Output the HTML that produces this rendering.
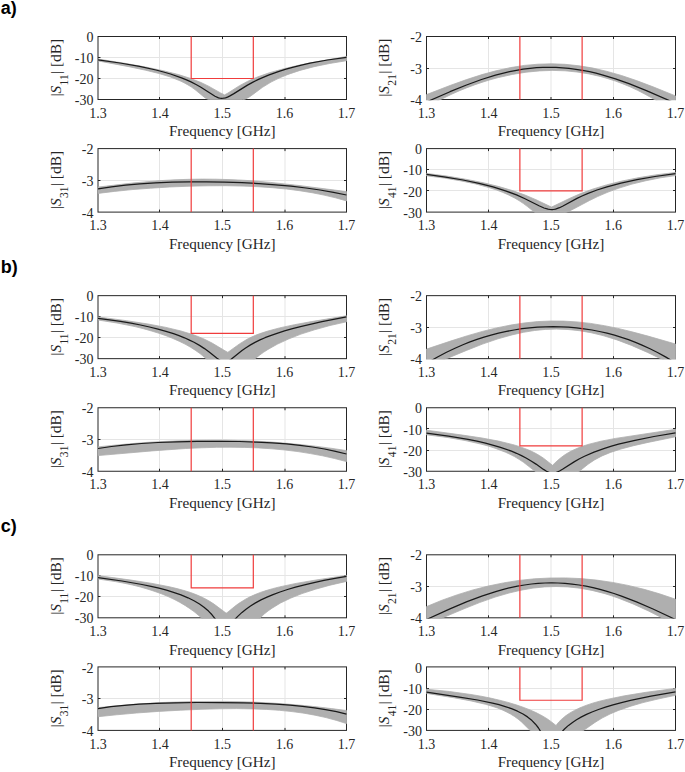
<!DOCTYPE html>
<html><head><meta charset="utf-8"><style>html,body{margin:0;padding:0;background:#fff;overflow:hidden}svg{display:block}</style></head><body>
<svg width="685" height="772" viewBox="0 0 685 772">
<rect width="100%" height="100%" fill="#fff"/>
<defs>
<clipPath id="c000"><rect x="97.3" y="35.8" width="249.9" height="64.4"/></clipPath>
<clipPath id="c001"><rect x="425.8" y="35.8" width="250.4" height="64.4"/></clipPath>
<clipPath id="c010"><rect x="97.3" y="147.9" width="249.9" height="64.9"/></clipPath>
<clipPath id="c011"><rect x="425.8" y="147.9" width="250.4" height="64.9"/></clipPath>
<clipPath id="c100"><rect x="97.3" y="294.95" width="249.9" height="64.4"/></clipPath>
<clipPath id="c101"><rect x="425.8" y="294.95" width="250.4" height="64.4"/></clipPath>
<clipPath id="c110"><rect x="97.3" y="407.05" width="249.9" height="64.9"/></clipPath>
<clipPath id="c111"><rect x="425.8" y="407.05" width="250.4" height="64.9"/></clipPath>
<clipPath id="c200"><rect x="97.3" y="554.0999999999999" width="249.9" height="64.4"/></clipPath>
<clipPath id="c201"><rect x="425.8" y="554.0999999999999" width="250.4" height="64.4"/></clipPath>
<clipPath id="c210"><rect x="97.3" y="666.1999999999999" width="249.9" height="64.9"/></clipPath>
<clipPath id="c211"><rect x="425.8" y="666.1999999999999" width="250.4" height="64.9"/></clipPath>
</defs>
<style>.t{font-family:"Liberation Serif",serif;font-size:14px;fill:#262626}.l{font-family:"Liberation Serif",serif;font-size:15.2px;fill:#262626}</style>
<text x="0.8" y="13.90" font-family="Liberation Sans" font-weight="bold" font-size="18">a)</text>
<path d="M159.5,36.5V99.5M222.5,36.5V99.5M285.0,36.5V99.5M98.0,57.50H346.5M98.0,78.50H346.5" stroke="#e5e5e5" stroke-width="1" fill="none"/>
<rect x="98.0" y="36.5" width="248.5" height="63.0" fill="none" stroke="#262626" stroke-width="1"/>
<path d="M159.5,99.5v-2.5M159.5,36.5v2.5M222.5,99.5v-2.5M222.5,36.5v2.5M285.0,99.5v-2.5M285.0,36.5v2.5M98.0,57.50h2.5M346.5,57.50h-2.5M98.0,78.50h2.5M346.5,78.50h-2.5" stroke="#262626" stroke-width="1" fill="none"/>
<g clip-path="url(#c000)">
<path d="M98.0,59.0 126.0,63.5 147.0,67.3 164.0,70.9 178.5,74.6 190.5,78.4 201.0,82.5 209.0,86.4 220.5,92.9 224.5,94.9 228.0,93.0 239.5,85.7 247.5,81.4 252.5,79.0 258.0,76.8 269.5,72.7 284.0,68.7 301.0,64.7 321.5,60.8 346.5,56.5 L346.5,60.7 329.5,63.5 314.0,66.7 300.0,70.4 288.0,74.4 279.0,78.1 271.0,82.1 262.5,87.3 251.5,95.5 248.5,97.5 245.5,99.0 244.0,99.4 242.5,99.5 209.5,99.5 208.0,99.3 206.5,98.7 204.5,97.4 195.0,89.6 191.5,87.1 188.0,84.9 184.0,82.7 180.0,80.8 170.5,77.0 159.0,73.5 145.5,70.2 129.0,66.7 98.0,60.9Z" fill="#afafaf" stroke="#afafaf" stroke-width="0.8"/>
<path d="M98.0,59.8 120.0,63.0 139.5,66.4 156.0,70.0 163.5,72.0 170.5,74.0 181.5,77.9 186.5,79.9 191.0,81.9 196.0,84.5 200.5,87.0 215.0,96.3 218.5,97.9 220.0,98.2 221.5,98.3 223.5,98.2 225.5,97.8 227.5,97.1 229.5,96.1 233.5,93.9 247.5,85.1 253.0,82.1 258.5,79.4 268.5,75.1 279.0,71.3 286.0,69.1 293.5,67.1 301.5,65.1 310.0,63.2 327.5,60.0 346.5,57.3" fill="none" stroke="#1a1a1a" stroke-width="1.25" stroke-linejoin="round"/>
</g>
<path d="M191.19,36.5V78.50H253.31V36.5" fill="none" stroke="#f03c3c" stroke-width="1.2"/>
<text x="98.00" y="117.70" text-anchor="middle" class="t">1.3</text>
<text x="160.12" y="117.70" text-anchor="middle" class="t">1.4</text>
<text x="222.25" y="117.70" text-anchor="middle" class="t">1.5</text>
<text x="284.38" y="117.70" text-anchor="middle" class="t">1.6</text>
<text x="346.50" y="117.70" text-anchor="middle" class="t">1.7</text>
<text x="93.50" y="42.10" text-anchor="end" class="t">0</text>
<text x="93.50" y="63.10" text-anchor="end" class="t">-10</text>
<text x="93.50" y="84.10" text-anchor="end" class="t">-20</text>
<text x="93.50" y="105.10" text-anchor="end" class="t">-30</text>
<text x="222.25" y="136.30" text-anchor="middle" class="l">Frequency [GHz]</text>
<text transform="translate(60.70,67.70) rotate(-90)" text-anchor="middle" class="l" style="font-size:15.4px">|<tspan font-style="italic">S</tspan><tspan font-size="11.6" dy="7" dx="0.3">11</tspan><tspan dy="-7" dx="0.3">| [dB]</tspan></text>
<path d="M488.5,36.5V99.5M551.0,36.5V99.5M613.5,36.5V99.5M426.5,68.50H675.5" stroke="#e5e5e5" stroke-width="1" fill="none"/>
<rect x="426.5" y="36.5" width="249.0" height="63.0" fill="none" stroke="#262626" stroke-width="1"/>
<path d="M488.5,99.5v-2.5M488.5,36.5v2.5M551.0,99.5v-2.5M551.0,36.5v2.5M613.5,99.5v-2.5M613.5,36.5v2.5M426.5,68.50h2.5M675.5,68.50h-2.5" stroke="#262626" stroke-width="1" fill="none"/>
<g clip-path="url(#c001)">
<path d="M426.5,94.6 450.0,85.5 466.5,79.6 482.0,74.6 496.0,70.8 510.5,67.6 524.5,65.4 538.0,64.2 551.5,63.8 565.0,64.3 579.0,65.8 593.0,68.1 607.0,71.4 621.5,75.5 636.5,80.6 653.0,86.8 675.5,95.9 L675.5,102.5 659.5,102.5 659.0,102.3 652.0,98.1 644.5,93.9 637.5,90.3 630.0,86.8 623.0,83.9 615.5,81.1 608.0,78.7 600.5,76.5 589.0,73.9 577.0,72.0 565.0,70.8 552.5,70.4 539.5,70.9 526.0,72.2 512.5,74.4 498.5,77.5 491.0,79.5 483.0,82.0 475.0,84.7 467.0,87.7 459.0,90.9 451.0,94.5 434.5,102.5 426.5,102.5Z" fill="#afafaf" stroke="#afafaf" stroke-width="0.8"/>
<path d="M426.5,102.0 450.0,91.7 466.5,85.0 481.5,79.5 495.5,75.1 502.5,73.3 509.5,71.7 516.5,70.3 523.0,69.2 530.0,68.3 536.5,67.7 543.0,67.4 549.5,67.3 556.0,67.4 562.5,67.8 569.0,68.4 576.0,69.3 582.5,70.3 589.5,71.7 596.0,73.2 603.0,75.1 615.5,78.9 629.0,83.7 647.0,90.9 673.5,102.4 675.5,102.5" fill="none" stroke="#1a1a1a" stroke-width="1.25" stroke-linejoin="round"/>
</g>
<path d="M519.88,36.5V99.5M582.12,36.5V99.5" fill="none" stroke="#f03c3c" stroke-width="1.2"/>
<text x="426.50" y="117.70" text-anchor="middle" class="t">1.3</text>
<text x="488.75" y="117.70" text-anchor="middle" class="t">1.4</text>
<text x="551.00" y="117.70" text-anchor="middle" class="t">1.5</text>
<text x="613.25" y="117.70" text-anchor="middle" class="t">1.6</text>
<text x="675.50" y="117.70" text-anchor="middle" class="t">1.7</text>
<text x="422.00" y="42.10" text-anchor="end" class="t">-2</text>
<text x="422.00" y="73.60" text-anchor="end" class="t">-3</text>
<text x="422.00" y="105.10" text-anchor="end" class="t">-4</text>
<text x="551.00" y="136.30" text-anchor="middle" class="l">Frequency [GHz]</text>
<text transform="translate(389.20,67.70) rotate(-90)" text-anchor="middle" class="l" style="font-size:15.4px">|<tspan font-style="italic">S</tspan><tspan font-size="11.6" dy="7" dx="0.3">21</tspan><tspan dy="-7" dx="0.3">| [dB]</tspan></text>
<path d="M159.5,148.6V212.1M222.5,148.6V212.1M285.0,148.6V212.1M98.0,180.50H346.5" stroke="#e5e5e5" stroke-width="1" fill="none"/>
<rect x="98.0" y="148.6" width="248.5" height="63.5" fill="none" stroke="#262626" stroke-width="1"/>
<path d="M159.5,212.1v-2.5M159.5,148.6v2.5M222.5,212.1v-2.5M222.5,148.6v2.5M285.0,212.1v-2.5M285.0,148.6v2.5M98.0,180.50h2.5M346.5,180.50h-2.5" stroke="#262626" stroke-width="1" fill="none"/>
<g clip-path="url(#c010)">
<path d="M98.0,187.1 132.0,183.1 147.0,181.7 161.0,180.6 175.0,179.8 189.0,179.3 202.5,179.1 216.0,179.2 229.0,179.6 242.5,180.2 256.0,181.1 270.5,182.4 299.0,185.5 346.5,191.6 L346.5,200.9 335.5,197.8 324.0,195.1 312.0,192.7 299.5,190.7 286.5,189.0 272.5,187.7 258.0,186.7 243.0,186.1 226.0,185.7 208.0,185.8 189.0,186.2 169.5,187.0 150.5,188.2 132.0,189.6 114.5,191.4 98.0,193.4Z" fill="#afafaf" stroke="#afafaf" stroke-width="0.8"/>
<path d="M98.0,188.8 111.5,186.8 125.5,185.2 140.0,183.9 155.5,182.9 172.0,182.2 189.0,181.9 206.5,181.8 224.5,182.1 242.0,182.7 259.0,183.6 275.5,184.8 291.0,186.2 306.0,188.0 320.0,190.0 333.5,192.3 346.5,195.0" fill="none" stroke="#1a1a1a" stroke-width="1.25" stroke-linejoin="round"/>
</g>
<path d="M191.19,148.6V212.1M253.31,148.6V212.1" fill="none" stroke="#f03c3c" stroke-width="1.2"/>
<text x="98.00" y="230.30" text-anchor="middle" class="t">1.3</text>
<text x="160.12" y="230.30" text-anchor="middle" class="t">1.4</text>
<text x="222.25" y="230.30" text-anchor="middle" class="t">1.5</text>
<text x="284.38" y="230.30" text-anchor="middle" class="t">1.6</text>
<text x="346.50" y="230.30" text-anchor="middle" class="t">1.7</text>
<text x="93.50" y="154.20" text-anchor="end" class="t">-2</text>
<text x="93.50" y="185.95" text-anchor="end" class="t">-3</text>
<text x="93.50" y="217.70" text-anchor="end" class="t">-4</text>
<text x="222.25" y="248.90" text-anchor="middle" class="l">Frequency [GHz]</text>
<text transform="translate(60.70,180.05) rotate(-90)" text-anchor="middle" class="l" style="font-size:15.4px">|<tspan font-style="italic">S</tspan><tspan font-size="11.6" dy="7" dx="0.3">31</tspan><tspan dy="-7" dx="0.3">| [dB]</tspan></text>
<path d="M488.5,148.6V212.1M551.0,148.6V212.1M613.5,148.6V212.1M426.5,169.50H675.5M426.5,190.50H675.5" stroke="#e5e5e5" stroke-width="1" fill="none"/>
<rect x="426.5" y="148.6" width="249.0" height="63.5" fill="none" stroke="#262626" stroke-width="1"/>
<path d="M488.5,212.1v-2.5M488.5,148.6v2.5M551.0,212.1v-2.5M551.0,148.6v2.5M613.5,212.1v-2.5M613.5,148.6v2.5M426.5,169.50h2.5M675.5,169.50h-2.5M426.5,190.50h2.5M675.5,190.50h-2.5" stroke="#262626" stroke-width="1" fill="none"/>
<g clip-path="url(#c011)">
<path d="M426.5,173.4 447.0,176.1 466.0,179.3 483.5,182.8 499.0,186.6 512.5,190.6 525.0,195.0 536.0,199.7 551.5,207.1 570.0,198.2 580.5,193.6 593.0,189.0 606.5,184.9 622.0,181.0 639.0,177.6 657.0,174.7 675.5,172.5 L675.5,175.6 660.5,177.8 646.0,180.7 632.0,184.1 619.0,188.1 608.0,192.1 597.5,196.6 589.5,200.5 573.5,209.0 567.5,211.9 562.0,214.0 557.5,215.1 538.5,215.0 535.0,212.6 527.5,206.6 523.5,203.6 519.0,200.6 514.5,197.9 508.5,194.9 502.5,192.3 496.0,189.8 488.5,187.4 475.5,183.9 461.0,180.9 444.5,178.1 426.5,175.8Z" fill="#afafaf" stroke="#afafaf" stroke-width="0.8"/>
<path d="M426.5,174.4 445.5,177.1 463.0,180.0 479.0,183.3 493.0,186.9 505.5,190.8 516.5,194.9 525.0,198.7 539.0,205.8 544.0,208.0 548.0,209.2 550.0,209.5 552.0,209.6 553.5,209.5 555.5,209.1 559.5,207.7 563.0,206.0 577.0,198.4 582.0,196.0 587.5,193.6 597.0,190.0 607.0,186.8 621.0,183.1 637.0,179.7 655.0,176.5 675.5,173.6" fill="none" stroke="#1a1a1a" stroke-width="1.25" stroke-linejoin="round"/>
</g>
<path d="M519.88,148.6V190.93H582.12V148.6" fill="none" stroke="#f03c3c" stroke-width="1.2"/>
<text x="426.50" y="230.30" text-anchor="middle" class="t">1.3</text>
<text x="488.75" y="230.30" text-anchor="middle" class="t">1.4</text>
<text x="551.00" y="230.30" text-anchor="middle" class="t">1.5</text>
<text x="613.25" y="230.30" text-anchor="middle" class="t">1.6</text>
<text x="675.50" y="230.30" text-anchor="middle" class="t">1.7</text>
<text x="422.00" y="154.20" text-anchor="end" class="t">0</text>
<text x="422.00" y="175.37" text-anchor="end" class="t">-10</text>
<text x="422.00" y="196.53" text-anchor="end" class="t">-20</text>
<text x="422.00" y="217.70" text-anchor="end" class="t">-30</text>
<text x="551.00" y="248.90" text-anchor="middle" class="l">Frequency [GHz]</text>
<text transform="translate(389.20,180.05) rotate(-90)" text-anchor="middle" class="l" style="font-size:15.4px">|<tspan font-style="italic">S</tspan><tspan font-size="11.6" dy="7" dx="0.3">41</tspan><tspan dy="-7" dx="0.3">| [dB]</tspan></text>
<text x="0.8" y="273.05" font-family="Liberation Sans" font-weight="bold" font-size="18">b)</text>
<path d="M159.5,295.65V358.65M222.5,295.65V358.65M285.0,295.65V358.65M98.0,316.50H346.5M98.0,337.50H346.5" stroke="#e5e5e5" stroke-width="1" fill="none"/>
<rect x="98.0" y="295.65" width="248.5" height="63.0" fill="none" stroke="#262626" stroke-width="1"/>
<path d="M159.5,358.65v-2.5M159.5,295.65v2.5M222.5,358.65v-2.5M222.5,295.65v2.5M285.0,358.65v-2.5M285.0,295.65v2.5M98.0,316.50h2.5M346.5,316.50h-2.5M98.0,337.50h2.5M346.5,337.50h-2.5" stroke="#262626" stroke-width="1" fill="none"/>
<g clip-path="url(#c100)">
<path d="M98.0,316.9 126.5,320.7 148.0,324.0 166.0,327.4 181.0,331.0 193.5,334.8 199.0,336.9 204.0,339.0 212.0,343.0 225.0,350.8 227.5,352.2 228.0,352.2 239.5,343.9 247.0,339.3 251.5,337.1 256.0,335.1 261.5,333.1 267.0,331.3 279.5,327.9 294.5,324.7 311.5,321.6 346.5,315.8 L346.5,321.8 330.0,325.5 314.5,329.8 301.0,334.1 288.5,339.0 277.5,344.1 268.0,349.4 263.5,352.3 259.5,355.2 255.5,358.4 252.0,361.6 209.5,361.6 209.0,361.6 204.5,357.3 200.0,353.6 195.5,350.4 190.5,347.2 185.0,344.1 179.5,341.4 173.0,338.5 166.5,335.9 159.0,333.3 151.5,331.0 143.5,328.7 135.0,326.6 117.0,323.0 98.0,320.0Z" fill="#afafaf" stroke="#afafaf" stroke-width="0.8"/>
<path d="M98.0,318.3 109.5,319.8 120.5,321.4 131.0,323.2 140.5,325.0 149.5,327.0 158.0,329.1 166.0,331.3 173.5,333.7 179.0,335.6 184.5,337.8 189.5,340.1 194.0,342.3 199.5,345.4 204.5,348.6 209.5,352.3 217.0,358.2 220.0,360.3 221.5,361.1 223.0,361.6 226.5,361.6 227.0,361.6 228.0,361.2 230.5,359.8 242.0,350.5 246.0,347.7 250.5,344.9 255.0,342.4 260.0,339.9 265.0,337.7 270.5,335.6 277.0,333.3 284.5,330.9 292.5,328.6 301.5,326.3 322.0,321.6 346.5,316.8" fill="none" stroke="#1a1a1a" stroke-width="1.25" stroke-linejoin="round"/>
</g>
<path d="M191.19,295.65V333.45H253.31V295.65" fill="none" stroke="#f03c3c" stroke-width="1.2"/>
<text x="98.00" y="376.85" text-anchor="middle" class="t">1.3</text>
<text x="160.12" y="376.85" text-anchor="middle" class="t">1.4</text>
<text x="222.25" y="376.85" text-anchor="middle" class="t">1.5</text>
<text x="284.38" y="376.85" text-anchor="middle" class="t">1.6</text>
<text x="346.50" y="376.85" text-anchor="middle" class="t">1.7</text>
<text x="93.50" y="301.25" text-anchor="end" class="t">0</text>
<text x="93.50" y="322.25" text-anchor="end" class="t">-10</text>
<text x="93.50" y="343.25" text-anchor="end" class="t">-20</text>
<text x="93.50" y="364.25" text-anchor="end" class="t">-30</text>
<text x="222.25" y="395.45" text-anchor="middle" class="l">Frequency [GHz]</text>
<text transform="translate(60.70,326.85) rotate(-90)" text-anchor="middle" class="l" style="font-size:15.4px">|<tspan font-style="italic">S</tspan><tspan font-size="11.6" dy="7" dx="0.3">11</tspan><tspan dy="-7" dx="0.3">| [dB]</tspan></text>
<path d="M488.5,295.65V358.65M551.0,295.65V358.65M613.5,295.65V358.65M426.5,327.50H675.5" stroke="#e5e5e5" stroke-width="1" fill="none"/>
<rect x="426.5" y="295.65" width="249.0" height="63.0" fill="none" stroke="#262626" stroke-width="1"/>
<path d="M488.5,358.65v-2.5M488.5,295.65v2.5M551.0,358.65v-2.5M551.0,295.65v2.5M613.5,358.65v-2.5M613.5,295.65v2.5M426.5,327.50h2.5M675.5,327.50h-2.5" stroke="#262626" stroke-width="1" fill="none"/>
<g clip-path="url(#c101)">
<path d="M426.5,349.1 452.0,340.6 467.5,335.7 482.5,331.4 496.5,327.9 510.5,325.1 524.0,323.0 537.5,321.6 550.5,321.0 563.5,321.1 577.0,321.9 590.5,323.4 604.5,325.7 618.0,328.4 633.0,332.1 648.0,336.1 675.5,344.0 L675.5,361.6 667.0,361.6 666.5,361.5 647.5,352.4 631.5,345.4 617.0,339.9 603.0,335.6 591.0,332.7 579.5,330.7 568.0,329.5 556.5,329.1 545.5,329.4 534.5,330.5 523.5,332.3 512.0,334.9 498.0,338.8 482.5,344.1 466.5,350.4 439.5,361.6 426.5,361.6Z" fill="#afafaf" stroke="#afafaf" stroke-width="0.8"/>
<path d="M426.5,361.6 429.5,361.6 438.0,356.7 446.5,352.2 455.0,348.2 463.5,344.5 470.0,341.9 477.0,339.4 484.0,337.1 491.0,335.1 498.5,333.1 506.5,331.4 514.0,330.0 522.0,328.7 529.5,327.8 537.5,327.2 545.5,326.8 553.0,326.6 561.0,326.8 568.5,327.2 576.5,327.9 584.0,328.8 592.0,330.0 599.5,331.5 607.0,333.2 614.5,335.2 621.5,337.4 628.5,339.7 635.5,342.4 642.0,345.1 650.0,348.8 657.5,352.5 665.5,356.9 673.0,361.4 673.5,361.6 675.5,361.6" fill="none" stroke="#1a1a1a" stroke-width="1.25" stroke-linejoin="round"/>
</g>
<path d="M519.88,295.65V358.65M582.12,295.65V358.65" fill="none" stroke="#f03c3c" stroke-width="1.2"/>
<text x="426.50" y="376.85" text-anchor="middle" class="t">1.3</text>
<text x="488.75" y="376.85" text-anchor="middle" class="t">1.4</text>
<text x="551.00" y="376.85" text-anchor="middle" class="t">1.5</text>
<text x="613.25" y="376.85" text-anchor="middle" class="t">1.6</text>
<text x="675.50" y="376.85" text-anchor="middle" class="t">1.7</text>
<text x="422.00" y="301.25" text-anchor="end" class="t">-2</text>
<text x="422.00" y="332.75" text-anchor="end" class="t">-3</text>
<text x="422.00" y="364.25" text-anchor="end" class="t">-4</text>
<text x="551.00" y="395.45" text-anchor="middle" class="l">Frequency [GHz]</text>
<text transform="translate(389.20,326.85) rotate(-90)" text-anchor="middle" class="l" style="font-size:15.4px">|<tspan font-style="italic">S</tspan><tspan font-size="11.6" dy="7" dx="0.3">21</tspan><tspan dy="-7" dx="0.3">| [dB]</tspan></text>
<path d="M159.5,407.75V471.25M222.5,407.75V471.25M285.0,407.75V471.25M98.0,439.50H346.5" stroke="#e5e5e5" stroke-width="1" fill="none"/>
<rect x="98.0" y="407.75" width="248.5" height="63.5" fill="none" stroke="#262626" stroke-width="1"/>
<path d="M159.5,471.25v-2.5M159.5,407.75v2.5M222.5,471.25v-2.5M222.5,407.75v2.5M285.0,471.25v-2.5M285.0,407.75v2.5M98.0,439.50h2.5M346.5,439.50h-2.5" stroke="#262626" stroke-width="1" fill="none"/>
<g clip-path="url(#c110)">
<path d="M98.0,446.9 114.5,445.2 131.0,443.7 147.0,442.4 163.0,441.5 179.0,440.8 195.0,440.3 210.5,440.2 226.0,440.2 241.5,440.6 256.5,441.2 272.0,442.1 287.0,443.3 302.0,444.7 317.0,446.4 332.0,448.4 346.5,450.6 L346.5,461.6 334.5,458.5 322.5,455.8 310.5,453.6 298.0,451.6 285.0,450.0 272.0,448.8 258.5,447.9 244.5,447.4 231.0,447.2 216.5,447.3 201.5,447.8 185.5,448.5 152.0,450.9 98.0,455.6Z" fill="#afafaf" stroke="#afafaf" stroke-width="0.8"/>
<path d="M98.0,448.5 111.5,446.5 126.0,444.9 141.5,443.5 158.0,442.5 177.0,441.8 197.5,441.4 219.0,441.3 239.5,441.5 256.5,442.1 272.0,442.9 286.5,443.9 300.0,445.3 312.5,447.0 324.5,449.0 335.5,451.3 346.5,454.0" fill="none" stroke="#1a1a1a" stroke-width="1.25" stroke-linejoin="round"/>
</g>
<path d="M191.19,407.75V471.25M253.31,407.75V471.25" fill="none" stroke="#f03c3c" stroke-width="1.2"/>
<text x="98.00" y="489.45" text-anchor="middle" class="t">1.3</text>
<text x="160.12" y="489.45" text-anchor="middle" class="t">1.4</text>
<text x="222.25" y="489.45" text-anchor="middle" class="t">1.5</text>
<text x="284.38" y="489.45" text-anchor="middle" class="t">1.6</text>
<text x="346.50" y="489.45" text-anchor="middle" class="t">1.7</text>
<text x="93.50" y="413.35" text-anchor="end" class="t">-2</text>
<text x="93.50" y="445.10" text-anchor="end" class="t">-3</text>
<text x="93.50" y="476.85" text-anchor="end" class="t">-4</text>
<text x="222.25" y="508.05" text-anchor="middle" class="l">Frequency [GHz]</text>
<text transform="translate(60.70,439.20) rotate(-90)" text-anchor="middle" class="l" style="font-size:15.4px">|<tspan font-style="italic">S</tspan><tspan font-size="11.6" dy="7" dx="0.3">31</tspan><tspan dy="-7" dx="0.3">| [dB]</tspan></text>
<path d="M488.5,407.75V471.25M551.0,407.75V471.25M613.5,407.75V471.25M426.5,428.50H675.5M426.5,450.50H675.5" stroke="#e5e5e5" stroke-width="1" fill="none"/>
<rect x="426.5" y="407.75" width="249.0" height="63.5" fill="none" stroke="#262626" stroke-width="1"/>
<path d="M488.5,471.25v-2.5M488.5,407.75v2.5M551.0,471.25v-2.5M551.0,407.75v2.5M613.5,471.25v-2.5M613.5,407.75v2.5M426.5,428.50h2.5M675.5,428.50h-2.5M426.5,450.50h2.5M675.5,450.50h-2.5" stroke="#262626" stroke-width="1" fill="none"/>
<g clip-path="url(#c111)">
<path d="M426.5,430.2 462.5,435.1 482.0,438.0 498.5,441.1 512.5,444.5 519.0,446.4 524.5,448.4 530.0,450.6 535.0,453.0 539.5,455.6 543.5,458.2 552.5,465.3 557.0,461.0 560.5,458.0 564.5,455.0 568.5,452.5 573.0,450.2 578.0,448.0 583.0,446.1 589.0,444.2 601.0,441.2 615.5,438.4 675.5,429.3 L675.5,436.8 648.0,442.4 633.5,445.7 621.0,449.0 610.5,452.4 602.0,455.9 594.5,459.9 588.0,464.3 578.5,471.9 576.5,473.2 575.0,473.7 573.5,473.9 541.5,473.9 539.0,473.5 536.0,472.0 523.5,462.3 519.0,459.3 514.5,456.6 510.0,454.3 505.5,452.2 495.0,448.2 488.5,446.1 481.0,444.1 465.0,440.5 447.0,437.4 426.5,434.8Z" fill="#afafaf" stroke="#afafaf" stroke-width="0.8"/>
<path d="M426.5,433.2 448.5,436.1 468.0,439.4 477.0,441.2 485.5,443.2 493.5,445.3 500.5,447.4 511.5,451.2 516.5,453.3 521.5,455.6 526.5,458.2 531.5,461.2 536.0,464.1 543.5,469.4 546.5,471.3 549.5,472.6 551.0,473.0 552.5,473.1 554.0,473.0 556.0,472.5 559.5,471.0 562.5,469.2 574.5,461.6 579.5,458.7 584.5,456.2 594.0,452.1 604.5,448.3 611.5,446.2 618.5,444.2 635.0,440.3 654.0,436.5 675.5,432.9" fill="none" stroke="#1a1a1a" stroke-width="1.25" stroke-linejoin="round"/>
</g>
<path d="M519.88,407.75V445.85H582.12V407.75" fill="none" stroke="#f03c3c" stroke-width="1.2"/>
<text x="426.50" y="489.45" text-anchor="middle" class="t">1.3</text>
<text x="488.75" y="489.45" text-anchor="middle" class="t">1.4</text>
<text x="551.00" y="489.45" text-anchor="middle" class="t">1.5</text>
<text x="613.25" y="489.45" text-anchor="middle" class="t">1.6</text>
<text x="675.50" y="489.45" text-anchor="middle" class="t">1.7</text>
<text x="422.00" y="413.35" text-anchor="end" class="t">0</text>
<text x="422.00" y="434.52" text-anchor="end" class="t">-10</text>
<text x="422.00" y="455.68" text-anchor="end" class="t">-20</text>
<text x="422.00" y="476.85" text-anchor="end" class="t">-30</text>
<text x="551.00" y="508.05" text-anchor="middle" class="l">Frequency [GHz]</text>
<text transform="translate(389.20,439.20) rotate(-90)" text-anchor="middle" class="l" style="font-size:15.4px">|<tspan font-style="italic">S</tspan><tspan font-size="11.6" dy="7" dx="0.3">41</tspan><tspan dy="-7" dx="0.3">| [dB]</tspan></text>
<text x="0.8" y="532.20" font-family="Liberation Sans" font-weight="bold" font-size="18">c)</text>
<path d="M159.5,554.8V617.8M222.5,554.8V617.8M285.0,554.8V617.8M98.0,575.50H346.5M98.0,596.50H346.5" stroke="#e5e5e5" stroke-width="1" fill="none"/>
<rect x="98.0" y="554.8" width="248.5" height="63.0" fill="none" stroke="#262626" stroke-width="1"/>
<path d="M159.5,617.8v-2.5M159.5,554.8v2.5M222.5,617.8v-2.5M222.5,554.8v2.5M285.0,617.8v-2.5M285.0,554.8v2.5M98.0,575.50h2.5M346.5,575.50h-2.5M98.0,596.50h2.5M346.5,596.50h-2.5" stroke="#262626" stroke-width="1" fill="none"/>
<g clip-path="url(#c200)">
<path d="M98.0,575.6 131.0,580.1 152.0,583.4 169.5,586.8 177.0,588.6 184.0,590.5 190.5,592.5 196.0,594.6 201.0,596.7 206.0,599.2 210.0,601.5 214.0,604.1 226.0,613.1 226.5,613.0 228.0,612.0 234.5,606.6 238.5,603.6 245.5,599.2 250.0,596.8 255.0,594.6 260.5,592.4 266.0,590.6 272.5,588.7 279.5,586.9 296.0,583.4 316.0,580.0 346.5,575.4 L346.5,581.4 330.0,585.2 315.5,589.2 302.0,593.6 290.5,598.2 280.5,603.0 272.0,608.2 268.0,611.0 264.5,613.8 257.0,620.8 205.0,620.8 204.5,620.8 199.0,615.7 194.0,611.6 189.5,608.4 185.0,605.4 179.5,602.2 174.0,599.3 168.0,596.5 162.0,594.0 155.0,591.5 148.0,589.2 140.5,587.0 132.5,585.0 124.0,583.2 115.5,581.6 98.0,579.0Z" fill="#afafaf" stroke="#afafaf" stroke-width="0.8"/>
<path d="M98.0,577.6 122.0,581.0 142.0,584.5 151.0,586.4 159.0,588.2 166.5,590.2 173.5,592.3 181.0,594.9 188.0,597.8 194.0,600.8 199.5,604.0 204.0,607.3 208.5,611.1 212.0,614.8 216.5,620.5 217.0,620.8 233.5,620.8 238.0,616.1 242.0,612.4 246.0,609.2 250.5,606.0 255.5,602.9 261.0,599.9 267.0,597.1 273.0,594.6 280.0,592.0 287.5,589.5 295.5,587.2 304.5,584.8 314.0,582.6 324.0,580.4 335.0,578.3 346.5,576.3" fill="none" stroke="#1a1a1a" stroke-width="1.25" stroke-linejoin="round"/>
</g>
<path d="M191.19,554.8V587.88H253.31V554.8" fill="none" stroke="#f03c3c" stroke-width="1.2"/>
<text x="98.00" y="636.00" text-anchor="middle" class="t">1.3</text>
<text x="160.12" y="636.00" text-anchor="middle" class="t">1.4</text>
<text x="222.25" y="636.00" text-anchor="middle" class="t">1.5</text>
<text x="284.38" y="636.00" text-anchor="middle" class="t">1.6</text>
<text x="346.50" y="636.00" text-anchor="middle" class="t">1.7</text>
<text x="93.50" y="560.40" text-anchor="end" class="t">0</text>
<text x="93.50" y="581.40" text-anchor="end" class="t">-10</text>
<text x="93.50" y="602.40" text-anchor="end" class="t">-20</text>
<text x="93.50" y="623.40" text-anchor="end" class="t">-30</text>
<text x="222.25" y="654.60" text-anchor="middle" class="l">Frequency [GHz]</text>
<text transform="translate(60.70,586.00) rotate(-90)" text-anchor="middle" class="l" style="font-size:15.4px">|<tspan font-style="italic">S</tspan><tspan font-size="11.6" dy="7" dx="0.3">11</tspan><tspan dy="-7" dx="0.3">| [dB]</tspan></text>
<path d="M488.5,554.8V617.8M551.0,554.8V617.8M613.5,554.8V617.8M426.5,586.50H675.5" stroke="#e5e5e5" stroke-width="1" fill="none"/>
<rect x="426.5" y="554.8" width="249.0" height="63.0" fill="none" stroke="#262626" stroke-width="1"/>
<path d="M488.5,617.8v-2.5M488.5,554.8v2.5M551.0,617.8v-2.5M551.0,554.8v2.5M613.5,617.8v-2.5M613.5,554.8v2.5M426.5,586.50h2.5M675.5,586.50h-2.5" stroke="#262626" stroke-width="1" fill="none"/>
<g clip-path="url(#c201)">
<path d="M426.5,606.6 442.0,600.2 457.5,594.7 473.0,589.9 488.0,586.1 503.5,582.9 519.0,580.4 534.5,578.8 550.0,578.0 565.5,577.9 581.0,578.6 596.5,580.1 612.5,582.4 628.0,585.4 644.0,589.3 659.5,593.8 675.5,599.2 L675.5,620.8 668.0,620.8 648.5,611.0 633.0,603.9 618.0,598.0 611.0,595.6 604.0,593.4 592.0,590.4 580.0,588.2 568.0,586.9 556.0,586.5 544.5,586.9 533.0,588.1 521.0,590.2 509.0,593.0 495.0,597.1 479.5,602.6 464.0,608.8 435.5,620.8 426.5,620.8Z" fill="#afafaf" stroke="#afafaf" stroke-width="0.8"/>
<path d="M426.5,619.5 450.5,608.6 467.0,601.6 482.5,595.8 496.5,591.3 503.5,589.3 510.5,587.6 517.5,586.2 524.5,585.0 531.5,584.0 538.0,583.4 545.0,583.0 551.5,582.9 558.0,583.0 565.0,583.4 572.0,584.1 579.0,585.0 586.0,586.2 593.0,587.7 600.0,589.4 607.0,591.3 614.0,593.5 621.5,596.1 636.5,601.9 653.0,609.0 675.5,619.5" fill="none" stroke="#1a1a1a" stroke-width="1.25" stroke-linejoin="round"/>
</g>
<path d="M519.88,554.8V617.8M582.12,554.8V617.8" fill="none" stroke="#f03c3c" stroke-width="1.2"/>
<text x="426.50" y="636.00" text-anchor="middle" class="t">1.3</text>
<text x="488.75" y="636.00" text-anchor="middle" class="t">1.4</text>
<text x="551.00" y="636.00" text-anchor="middle" class="t">1.5</text>
<text x="613.25" y="636.00" text-anchor="middle" class="t">1.6</text>
<text x="675.50" y="636.00" text-anchor="middle" class="t">1.7</text>
<text x="422.00" y="560.40" text-anchor="end" class="t">-2</text>
<text x="422.00" y="591.90" text-anchor="end" class="t">-3</text>
<text x="422.00" y="623.40" text-anchor="end" class="t">-4</text>
<text x="551.00" y="654.60" text-anchor="middle" class="l">Frequency [GHz]</text>
<text transform="translate(389.20,586.00) rotate(-90)" text-anchor="middle" class="l" style="font-size:15.4px">|<tspan font-style="italic">S</tspan><tspan font-size="11.6" dy="7" dx="0.3">21</tspan><tspan dy="-7" dx="0.3">| [dB]</tspan></text>
<path d="M159.5,666.9V730.4M222.5,666.9V730.4M285.0,666.9V730.4M98.0,698.50H346.5" stroke="#e5e5e5" stroke-width="1" fill="none"/>
<rect x="98.0" y="666.9" width="248.5" height="63.5" fill="none" stroke="#262626" stroke-width="1"/>
<path d="M159.5,730.4v-2.5M159.5,666.9v2.5M222.5,730.4v-2.5M222.5,666.9v2.5M285.0,730.4v-2.5M285.0,666.9v2.5M98.0,698.50h2.5M346.5,698.50h-2.5" stroke="#262626" stroke-width="1" fill="none"/>
<g clip-path="url(#c210)">
<path d="M98.0,707.6 130.0,704.6 162.0,702.5 193.5,701.5 224.5,701.4 240.0,701.7 255.5,702.2 271.0,703.0 286.0,704.0 301.5,705.3 316.5,706.8 331.5,708.6 346.5,710.5 L346.5,723.6 336.5,720.4 326.0,717.6 315.0,715.2 304.0,713.2 292.0,711.6 279.5,710.3 266.5,709.4 252.5,708.9 236.5,708.6 219.5,708.8 201.0,709.3 180.5,710.2 158.5,711.4 136.5,713.0 116.5,714.8 98.0,716.7Z" fill="#afafaf" stroke="#afafaf" stroke-width="0.8"/>
<path d="M98.0,708.6 111.0,706.7 124.5,705.3 139.0,704.1 155.5,703.3 175.0,702.8 197.0,702.5 221.0,702.5 243.5,702.8 260.5,703.4 276.0,704.1 290.0,705.1 302.5,706.3 314.5,707.8 325.5,709.6 336.5,711.7 346.5,714.2" fill="none" stroke="#1a1a1a" stroke-width="1.25" stroke-linejoin="round"/>
</g>
<path d="M191.19,666.9V730.4M253.31,666.9V730.4" fill="none" stroke="#f03c3c" stroke-width="1.2"/>
<text x="98.00" y="748.60" text-anchor="middle" class="t">1.3</text>
<text x="160.12" y="748.60" text-anchor="middle" class="t">1.4</text>
<text x="222.25" y="748.60" text-anchor="middle" class="t">1.5</text>
<text x="284.38" y="748.60" text-anchor="middle" class="t">1.6</text>
<text x="346.50" y="748.60" text-anchor="middle" class="t">1.7</text>
<text x="93.50" y="672.50" text-anchor="end" class="t">-2</text>
<text x="93.50" y="704.25" text-anchor="end" class="t">-3</text>
<text x="93.50" y="736.00" text-anchor="end" class="t">-4</text>
<text x="222.25" y="767.20" text-anchor="middle" class="l">Frequency [GHz]</text>
<text transform="translate(60.70,698.35) rotate(-90)" text-anchor="middle" class="l" style="font-size:15.4px">|<tspan font-style="italic">S</tspan><tspan font-size="11.6" dy="7" dx="0.3">31</tspan><tspan dy="-7" dx="0.3">| [dB]</tspan></text>
<path d="M488.5,666.9V730.4M551.0,666.9V730.4M613.5,666.9V730.4M426.5,688.50H675.5M426.5,709.50H675.5" stroke="#e5e5e5" stroke-width="1" fill="none"/>
<rect x="426.5" y="666.9" width="249.0" height="63.5" fill="none" stroke="#262626" stroke-width="1"/>
<path d="M488.5,730.4v-2.5M488.5,666.9v2.5M551.0,730.4v-2.5M551.0,666.9v2.5M613.5,730.4v-2.5M613.5,666.9v2.5M426.5,688.50h2.5M675.5,688.50h-2.5M426.5,709.50h2.5M675.5,709.50h-2.5" stroke="#262626" stroke-width="1" fill="none"/>
<g clip-path="url(#c211)">
<path d="M426.5,689.2 449.5,691.5 471.0,694.5 481.0,696.2 490.5,698.1 499.5,700.2 508.0,702.4 516.0,704.8 523.0,707.2 530.0,709.9 536.0,712.6 542.0,715.7 547.0,718.7 551.5,721.9 556.0,725.5 559.0,721.8 562.0,718.9 566.0,715.6 570.0,712.9 574.5,710.4 580.0,707.8 586.0,705.4 592.5,703.2 599.5,701.2 607.0,699.4 624.5,695.8 646.0,692.3 675.5,688.4 L675.5,695.3 658.0,699.0 643.0,702.6 630.0,706.4 618.5,710.4 610.0,714.0 602.0,718.1 595.0,722.4 583.0,730.8 580.5,732.1 578.5,732.8 576.5,733.1 535.0,733.1 534.0,733.0 533.0,732.7 531.0,731.3 521.5,721.9 518.0,719.0 514.5,716.5 510.5,714.0 506.5,711.9 502.0,709.8 497.5,708.0 492.0,706.2 485.5,704.3 471.0,700.9 453.5,697.7 426.5,693.4Z" fill="#afafaf" stroke="#afafaf" stroke-width="0.8"/>
<path d="M426.5,692.2 461.0,697.3 477.5,700.0 492.5,703.1 499.0,704.7 504.5,706.3 511.5,708.7 517.5,711.2 523.0,714.0 527.5,716.9 532.0,720.6 535.5,724.2 538.5,728.0 541.5,732.9 542.0,733.4 560.0,733.4 560.5,733.4 564.5,729.0 568.5,725.4 572.5,722.4 576.5,719.7 581.5,716.9 586.5,714.4 592.0,712.0 598.5,709.5 605.5,707.1 613.0,704.9 621.5,702.6 630.5,700.4 651.0,696.1 675.5,691.8" fill="none" stroke="#1a1a1a" stroke-width="1.25" stroke-linejoin="round"/>
</g>
<path d="M519.88,666.9V700.24H582.12V666.9" fill="none" stroke="#f03c3c" stroke-width="1.2"/>
<text x="426.50" y="748.60" text-anchor="middle" class="t">1.3</text>
<text x="488.75" y="748.60" text-anchor="middle" class="t">1.4</text>
<text x="551.00" y="748.60" text-anchor="middle" class="t">1.5</text>
<text x="613.25" y="748.60" text-anchor="middle" class="t">1.6</text>
<text x="675.50" y="748.60" text-anchor="middle" class="t">1.7</text>
<text x="422.00" y="672.50" text-anchor="end" class="t">0</text>
<text x="422.00" y="693.67" text-anchor="end" class="t">-10</text>
<text x="422.00" y="714.83" text-anchor="end" class="t">-20</text>
<text x="422.00" y="736.00" text-anchor="end" class="t">-30</text>
<text x="551.00" y="767.20" text-anchor="middle" class="l">Frequency [GHz]</text>
<text transform="translate(389.20,698.35) rotate(-90)" text-anchor="middle" class="l" style="font-size:15.4px">|<tspan font-style="italic">S</tspan><tspan font-size="11.6" dy="7" dx="0.3">41</tspan><tspan dy="-7" dx="0.3">| [dB]</tspan></text>
</svg>
</body></html>
